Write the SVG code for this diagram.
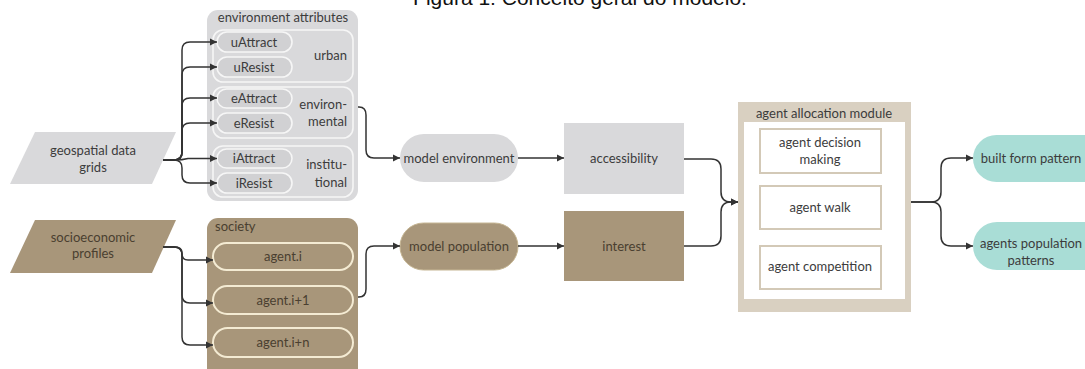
<svg xmlns="http://www.w3.org/2000/svg" width="1085" height="369" viewBox="0 0 1085 369">
  <style>
    text { font-family: Lato, "Open Sans", "Liberation Sans", sans-serif; font-size: 13px; fill: #3c3c3c; }
    .title { font-family: "Liberation Sans", Arial, sans-serif; font-size: 21px; fill: #111; }
    .mid { text-anchor: middle; }
    .end { text-anchor: end; }
    .brtxt { fill: #4a3f30; }
    .grey { fill: #d9d9db; }
    .greypill { fill: #d1d1d3; stroke: #f6f6f6; stroke-width: 1.6; }
    .group { fill: none; stroke: #f6f6f6; stroke-width: 1.6; }
    .brown { fill: #a8967a; }
    .agent { fill: #a8967a; stroke: #f4ebd3; stroke-width: 2; }
    .beige { fill: #d9d0c1; }
    .step { fill: #ffffff; stroke: #d3c9b7; stroke-width: 2; }
    .teal { fill: #a9ddd6; }
    .link { fill: none; stroke: #333333; stroke-width: 1.5; marker-end: url(#arrow); }
  </style>
  <defs>
    <marker id="arrow" viewBox="0 0 10 10" refX="10" refY="5" markerWidth="5" markerHeight="5" orient="auto" markerUnits="strokeWidth">
      <path d="M0,0 L10,5 L0,10 z" fill="#333333"/>
    </marker>
  </defs>

  <rect width="1085" height="369" fill="#ffffff"/>

  <!-- caption, partly above the top edge -->
  <text class="title mid" x="580" y="5">Figura 1: Conceito geral do modelo.</text>

  <!-- input data -->
  <g id="geospatial">
    <polygon class="grey" points="35,132 176,132 152,184 10,184"/>
    <text class="mid" x="93" y="155">geospatial data</text>
    <text class="mid" x="93" y="172">grids</text>
  </g>
  <g id="socioeconomic">
    <polygon class="brown" points="35,220 176,220 152,273 10,273"/>
    <text class="mid brtxt" x="93" y="242">socioeconomic</text>
    <text class="mid brtxt" x="93" y="258">profiles</text>
  </g>

  <!-- environment attributes -->
  <g id="environment-attributes">
    <rect class="grey" x="207" y="10" width="151" height="191" rx="11"/>
    <text class="mid" x="283" y="22">environment attributes</text>
    <g id="urban">
      <rect class="group" x="213" y="30" width="140" height="52" rx="10"/>
      <text class="end" x="347" y="60">urban</text>
    </g>
    <g id="uAttract">
      <rect class="greypill" x="217" y="32" width="75" height="20" rx="10"/>
      <text class="mid" x="254" y="46.5">uAttract</text>
    </g>
    <g id="uResist">
      <rect class="greypill" x="217" y="57" width="75" height="20" rx="10"/>
      <text class="mid" x="254" y="71.5">uResist</text>
    </g>
    <g id="environmental">
      <rect class="group" x="213" y="87" width="140" height="51" rx="10"/>
      <text class="end" x="347" y="109">environ-</text>
      <text class="end" x="347" y="126">mental</text>
    </g>
    <g id="eAttract">
      <rect class="greypill" x="217" y="89" width="75" height="19" rx="9.5"/>
      <text class="mid" x="254" y="103">eAttract</text>
    </g>
    <g id="eResist">
      <rect class="greypill" x="217" y="113" width="75" height="20" rx="10"/>
      <text class="mid" x="254" y="127.5">eResist</text>
    </g>
    <g id="institutional">
      <rect class="group" x="213" y="146" width="140" height="51" rx="10"/>
      <text class="end" x="347" y="169">institu-</text>
      <text class="end" x="347" y="187">tional</text>
    </g>
    <g id="iAttract">
      <rect class="greypill" x="217" y="149" width="75" height="19" rx="9.5"/>
      <text class="mid" x="254" y="163">iAttract</text>
    </g>
    <g id="iResist">
      <rect class="greypill" x="217" y="173" width="75" height="20" rx="10"/>
      <text class="mid" x="254" y="187.5">iResist</text>
    </g>
  </g>

  <!-- society -->
  <g id="society">
    <rect class="brown" x="207" y="218" width="151" height="162" rx="11"/>
    <text class="brtxt" x="215" y="231">society</text>
    <g id="agent-i">
      <rect class="agent" x="213" y="243" width="140" height="27" rx="13.5"/>
      <text class="mid brtxt" x="283" y="261">agent.i</text>
    </g>
    <g id="agent-i1">
      <rect class="agent" x="213" y="286" width="140" height="28" rx="14"/>
      <text class="mid brtxt" x="283" y="304.5">agent.i+1</text>
    </g>
    <g id="agent-in">
      <rect class="agent" x="213" y="328" width="140" height="29" rx="14.5"/>
      <text class="mid brtxt" x="283" y="347">agent.i+n</text>
    </g>
  </g>

  <!-- models -->
  <g id="model-environment">
    <rect class="grey" x="400" y="134" width="118" height="48" rx="24"/>
    <text class="mid" x="459" y="162.5">model environment</text>
  </g>
  <g id="model-population">
    <rect class="brown" x="400" y="223" width="118" height="47" rx="23.5" stroke="#c6b694" stroke-width="1"/>
    <text class="mid brtxt" x="459" y="250.5">model population</text>
  </g>
  <g id="accessibility">
    <rect class="grey" x="564" y="123" width="120" height="71"/>
    <text class="mid" x="624" y="162.5">accessibility</text>
  </g>
  <g id="interest">
    <rect class="brown" x="564" y="211" width="120" height="70"/>
    <text class="mid brtxt" x="624" y="250.5">interest</text>
  </g>

  <!-- agent allocation module -->
  <g id="agent-allocation-module">
    <rect class="beige" x="738" y="102" width="173" height="210"/>
    <rect fill="#ffffff" x="744" y="122" width="161" height="177"/>
    <text class="mid" x="824" y="118">agent allocation module</text>
    <g id="agent-decision-making">
      <rect class="step" x="760" y="129" width="121" height="44"/>
      <text class="mid" x="820" y="147">agent decision</text>
      <text class="mid" x="820" y="164">making</text>
    </g>
    <g id="agent-walk">
      <rect class="step" x="760" y="186" width="121" height="43"/>
      <text class="mid" x="820" y="212">agent walk</text>
    </g>
    <g id="agent-competition">
      <rect class="step" x="760" y="246" width="121" height="43"/>
      <text class="mid" x="820" y="271">agent competition</text>
    </g>
  </g>

  <!-- outputs -->
  <g id="built-form-pattern">
    <rect class="teal" x="973" y="135" width="140" height="47" rx="23.5"/>
    <text class="mid" x="1031" y="162.5">built form pattern</text>
  </g>
  <g id="agents-population-patterns">
    <rect class="teal" x="973" y="222" width="140" height="48" rx="24"/>
    <text class="mid" x="1031" y="248">agents population</text>
    <text class="mid" x="1031" y="265">patterns</text>
  </g>

  <!-- connectors -->
  <g id="connectors">
    <path class="link" d="M163,160 H174 Q182,160 182,152 V50 Q182,42 190,42 H217"/>
    <path class="link" d="M163,160 H174 Q182,160 182,152 V75 Q182,67 190,67 H217"/>
    <path class="link" d="M163,160 H174 Q182,160 182,152 V106 Q182,98 190,98 H217"/>
    <path class="link" d="M163,160 H174 Q182,160 182,152 V131 Q182,123 190,123 H217"/>
    <path class="link" d="M163,160 H176 Q182,160 188,158.5 H217"/>
    <path class="link" d="M163,160 H174 Q182,160 182,168 V175 Q182,183 190,183 H217"/>

    <path class="link" d="M163,247 H175 Q182,247 182,253 V254 Q182,260 188,260 H213"/>
    <path class="link" d="M163,247 H174 Q182,247 182,255 V295 Q182,303 190,303 H213"/>
    <path class="link" d="M163,247 H174 Q182,247 182,255 V337 Q182,345 190,345 H213"/>

    <path class="link" d="M358,107 H359 Q366,107 366,115 V150 Q366,158 374,158 H400"/>
    <path class="link" d="M358,297 H359 Q366,297 366,289 V254 Q366,246 374,246 H400"/>

    <path class="link" d="M518,158 H564"/>
    <path class="link" d="M518,246 H564"/>

    <path class="link" d="M684,159 H711 Q721,159 721,169 V192 Q721,202 731,202 H738"/>
    <path class="link" d="M684,246 H711 Q721,246 721,236 V212 Q721,202 731,202 H738"/>

    <path class="link" d="M911,202 H931 Q941,202 941,192 V168 Q941,158 951,158 H973"/>
    <path class="link" d="M911,202 H931 Q941,202 941,212 V236 Q941,246 951,246 H973"/>
  </g>
</svg>
